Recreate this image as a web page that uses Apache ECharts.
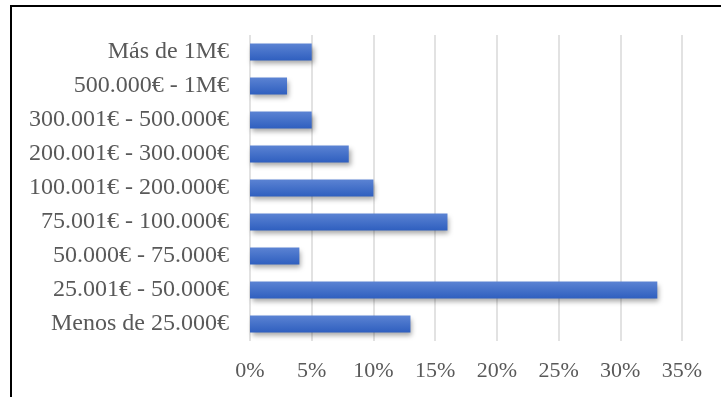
<!DOCTYPE html>
<html>
<head>
<meta charset="utf-8">
<script src="https://cdn.jsdelivr.net/npm/echarts@6/dist/echarts.min.js"></script>
<style>
html,body{margin:0;padding:0;background:#fff;}
#frame{position:absolute;left:10px;top:5px;width:720px;height:400px;border-left:2px solid #000;border-top:2px solid #000;box-sizing:border-box;}
#c{position:absolute;left:0;top:0;width:721px;height:397px;}
</style>
</head>
<body>
<div id="frame"></div>
<div id="c"></div>
<script>
const categories = ["Más de 1M€","500.000€ - 1M€","300.001€ - 500.000€","200.001€ - 300.000€","100.001€ - 200.000€","75.001€ - 100.000€","50.000€ - 75.000€","25.001€ - 50.000€","Menos de 25.000€"];
const values = [5, 3, 5, 8, 10, 16, 4, 33, 13];
const tickMax = 35;
const tickStep = 5;

const chart = echarts.init(document.getElementById('c'));
chart.setOption({
  animation:false,
  grid:{left:250,right:39,top:35,bottom:56},
  xAxis:{type:'value',min:0,max:tickMax,interval:tickStep,
    axisLine:{show:false},axisTick:{show:false},
    splitLine:{lineStyle:{color:'#d9d9d9',width:1.5}},
    axisLabel:{formatter:'{value}%',color:'#595959',fontFamily:'Liberation Serif',fontSize:22,margin:19}},
  yAxis:{type:'category',data:categories,inverse:true,
    axisLine:{show:false},axisTick:{show:false},
    axisLabel:{color:'#595959',fontFamily:'Liberation Serif',fontSize:24,margin:21}},
  series:[{type:'bar',data:values,barWidth:'50%',
    itemStyle:{color:new echarts.graphic.LinearGradient(0,0,0,1,[{offset:0,color:'#5b83d3'},{offset:1,color:'#2f5fbf'}]),
      shadowColor:'rgba(0,0,0,0.35)',shadowBlur:5,shadowOffsetX:2,shadowOffsetY:3}}]
});
</script>
</body>
</html>
